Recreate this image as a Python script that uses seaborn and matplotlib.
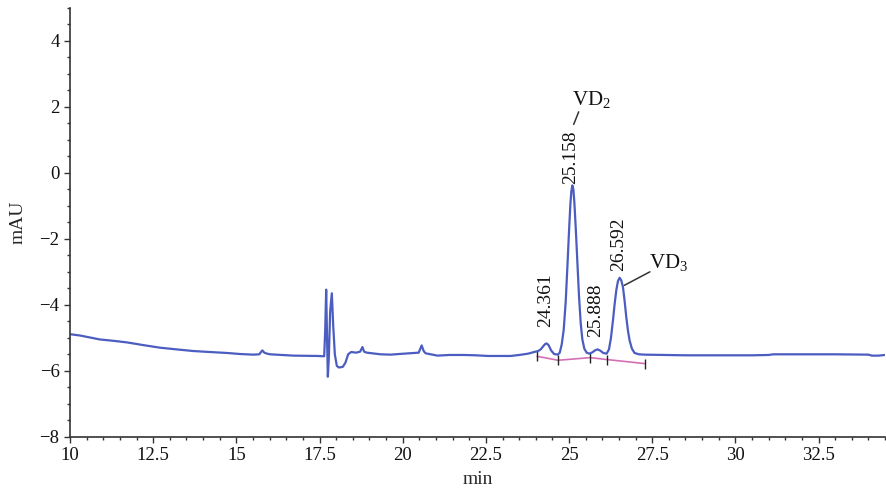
import matplotlib
matplotlib.use("Agg")
import matplotlib.pyplot as plt
from matplotlib.ticker import MultipleLocator
import pandas as pd
import seaborn as sns

# chromatogram trace (retention time in min, signal in mAU)
time_min = [
    10.0, 10.3, 10.9, 11.3, 11.72, 12.2, 12.71, 13.2, 13.7, 14.2, 14.73, 15.1,
    15.51, 15.69, 15.78, 15.84, 15.92, 16.02, 16.72, 17.44, 17.64, 17.67, 17.70,
    17.73, 17.75, 17.78, 17.82, 17.87, 17.91, 17.96, 18.02, 18.08, 18.20, 18.28,
    18.36, 18.45, 18.60, 18.72, 18.79, 18.84, 18.92, 19.34, 19.64, 19.9, 20.33,
    20.48, 20.57, 20.63, 20.69, 21.05, 21.4, 21.84, 22.2, 22.56, 23.25, 23.5,
    23.77, 23.95, 24.07, 24.15, 24.22, 24.28, 24.33, 24.39, 24.46, 24.55, 24.66,
    24.72, 24.78, 24.84, 24.90, 24.95, 25.00, 25.04, 25.07, 25.10, 25.13, 25.16,
    25.20, 25.25, 25.30, 25.35, 25.40, 25.46, 25.53, 25.61, 25.70, 25.78, 25.86,
    25.94, 26.03, 26.13, 26.20, 26.26, 26.32, 26.37, 26.42, 26.47, 26.52, 26.57,
    26.62, 26.67, 26.72, 26.77, 26.82, 26.89, 26.97, 27.10, 27.27, 28.5, 29.5,
    30.5, 31.0, 31.13, 32.0, 33.0, 34.0, 34.1, 34.3, 34.5,
]
signal_mau = [
    -4.89, -4.93, -5.05, -5.09, -5.14, -5.22, -5.30, -5.35, -5.40, -5.43, -5.46, -5.49,
    -5.51, -5.50, -5.38, -5.45, -5.48, -5.50, -5.54, -5.55, -5.56, -4.80, -3.54,
    -5.20, -6.18, -5.60, -4.20, -3.65, -4.60, -5.50, -5.85, -5.90, -5.88, -5.75,
    -5.50, -5.43, -5.45, -5.42, -5.28, -5.42, -5.45, -5.50, -5.51, -5.49, -5.46,
    -5.45, -5.23, -5.40, -5.47, -5.54, -5.52, -5.52, -5.53, -5.55, -5.55, -5.52,
    -5.48, -5.43, -5.40, -5.35, -5.26, -5.19, -5.17, -5.23, -5.38, -5.49, -5.51,
    -5.45, -5.20, -4.75, -3.90, -2.85, -1.75, -0.95, -0.55, -0.38, -0.50, -0.90,
    -1.65, -2.70, -3.75, -4.55, -5.05, -5.33, -5.45, -5.48, -5.44, -5.38, -5.35,
    -5.39, -5.46, -5.48, -5.35, -5.00, -4.47, -3.98, -3.56, -3.28, -3.18, -3.26,
    -3.46, -3.88, -4.37, -4.78, -5.08, -5.33, -5.46, -5.50, -5.51, -5.53, -5.53,
    -5.53, -5.52, -5.50, -5.50, -5.50, -5.51, -5.54, -5.54, -5.52,
]

# integration baseline and its peak boundary marks
base_time = [24.04, 24.67, 25.64, 26.15, 27.27]
base_mau = [-5.56, -5.68, -5.60, -5.66, -5.78]

# retention time labels
peak_labels = ["24.361", "25.158", "25.888", "26.592"]
label_time = [24.30, 25.06, 25.81, 26.48]
label_mau = [-4.68, -0.33, -4.98, -2.98]

trace = pd.DataFrame({"min": time_min, "mAU": signal_mau})
baseline = pd.DataFrame({"min": base_time, "mAU": base_mau})

sns.set_style("ticks")
plt.rcParams["font.family"] = ["Liberation Serif", "DejaVu Serif"]
plt.rcParams["mathtext.fontset"] = "custom"
plt.rcParams["mathtext.rm"] = "Liberation Serif"

fig, ax = plt.subplots(figsize=(8.86, 4.93), dpi=100)
fig.subplots_adjust(left=0.079, right=0.999, bottom=0.114, top=0.984)

sns.lineplot(data=baseline, x="min", y="mAU", ax=ax, color="#d46fb3", lw=1.2)
ax.plot(base_time, base_mau, ls="none", marker="|", ms=7, mew=1.0, color="#222222")
sns.lineplot(data=trace, x="min", y="mAU", ax=ax, color="#4b5dc0", lw=1.6, sort=False)

for lab, t, v in zip(peak_labels, label_time, label_mau):
    ax.text(t, v, lab, rotation=90, ha="center", va="bottom", fontsize=14, color="#111111")

ax.text(25.10, 2.22, r"$\mathregular{VD_2}$", fontsize=15, ha="left", va="center", color="#111111")
ax.plot([25.29, 25.14], [1.85, 1.47], color="#333333", lw=1.1)
ax.text(27.40, -2.72, r"$\mathregular{VD_3}$", fontsize=15, ha="left", va="center", color="#111111")
ax.plot([27.43, 26.66], [-3.00, -3.41], color="#333333", lw=1.1)

ax.set_xlim(10, 34.5)
ax.set_ylim(-8, 5)
ax.xaxis.set_major_locator(MultipleLocator(2.5))
ax.xaxis.set_minor_locator(MultipleLocator(0.5))
ax.yaxis.set_major_locator(MultipleLocator(2))
ax.yaxis.set_minor_locator(MultipleLocator(0.5))
ax.set_xticks([10, 12.5, 15, 17.5, 20, 22.5, 25, 27.5, 30, 32.5])
ax.set_xticklabels(["10", "12.5", "15", "17.5", "20", "22.5", "25", "27.5", "30", "32.5"])
ax.tick_params(which="major", length=4, width=1, labelsize=13.5, colors="#333333", labelcolor="#111111")
ax.tick_params(which="minor", length=2.5, width=1, colors="#333333")
ax.set_xlabel("min", fontsize=14, labelpad=5)
ax.set_ylabel("mAU", fontsize=14, labelpad=9)
sns.despine(ax=ax)
for s in ["left", "bottom"]:
    ax.spines[s].set_linewidth(1.2)
    ax.spines[s].set_color("#333333")

fig.savefig("out.png", dpi=100)
